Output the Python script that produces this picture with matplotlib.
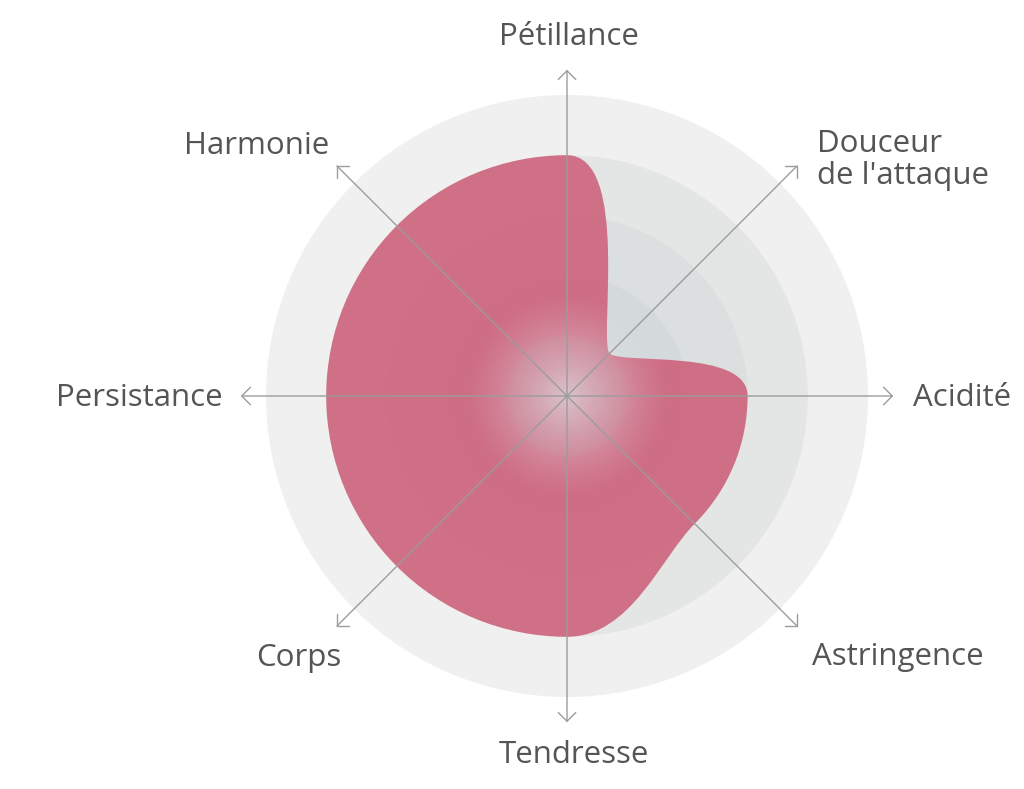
import numpy as np
import matplotlib
matplotlib.use("Agg")
import matplotlib.pyplot as plt
from matplotlib.path import Path
from matplotlib.patches import PathPatch, Circle, FancyArrowPatch

# ---- data ----
categories = ["Pétillance", "Douceur\nde l'attaque", "Acidité", "Astringence",
              "Tendresse", "Corps", "Persistance", "Harmonie"]
values = [4, 1, 3, 3, 4, 4, 4, 4]
levels = [1, 2, 3, 4, 5]

# ---- style ----
ring_colors = ["#cfd5d8", "#d4dadc", "#dcdfe0", "#e4e5e5", "#f0f0f0"]
fill_color = "#cd5a74"
text_color = "#555555"
axis_color = "#9c9c9c"
font = ["Open Sans", "DejaVu Sans"]

W, H = 1024, 789
cx, cy, s = 567, 396, 60.2

fig = plt.figure(figsize=(W / 100, H / 100), dpi=100)
ax = fig.add_axes([0, 0, 1, 1])
ax.axis("off")

# rings
for lv, col in reversed(list(zip(levels, ring_colors))):
    ax.add_patch(Circle((0, 0), lv, facecolor=col, edgecolor="none", zorder=1))

# smooth shape
n = len(values)
theta = np.pi / 2 - np.arange(n) * 2 * np.pi / n
r = np.array(values, dtype=float)
P = np.column_stack([r * np.cos(theta), r * np.sin(theta)])
T = np.column_stack([np.sin(theta), -np.cos(theta)])  # clockwise tangent
k = 4 / 3 * np.tan(2 * np.pi / n / 4)
verts = [P[0]]
codes = [Path.MOVETO]
for i in range(n):
    j = (i + 1) % n
    verts += [P[i] + k * r[i] * T[i], P[j] - k * r[j] * T[j], P[j]]
    codes += [Path.CURVE4] * 3
verts.append(P[0])
codes.append(Path.CLOSEPOLY)
ax.add_patch(PathPatch(Path(verts, codes), facecolor=fill_color, alpha=0.84,
                       edgecolor="none", zorder=2))

# central glow
g = np.linspace(-2, 2, 401)
X, Y = np.meshgrid(g, g)
D = np.hypot(X, Y)
A = np.clip(1 - D / 1.7, 0, 1) ** 1.3 * 0.72
img = np.zeros(D.shape + (4,))
img[..., 0] = 0.90
img[..., 1] = 0.90
img[..., 2] = 0.91
img[..., 3] = A
ax.imshow(img, extent=[-2, 2, -2, 2], origin="lower", zorder=3,
          interpolation="bilinear")
# inner disc edge (subtle)
ax.add_patch(Circle((0, 0), 1, facecolor="#b8b8c0", alpha=0.10,
                    edgecolor="none", zorder=3.5))

ax.set_xlim(-cx / s, (W - cx) / s)
ax.set_ylim(-(H - cy) / s, cy / s)
ax.set_aspect("equal")

# axes with arrows
axis_len = 5.42
for th in theta:
    arr = FancyArrowPatch((0, 0), (axis_len * np.cos(th), axis_len * np.sin(th)),
                          arrowstyle="->,head_length=0.45,head_width=0.45",
                          mutation_scale=14, color=axis_color, lw=1.0,
                          shrinkA=0, shrinkB=0, zorder=4)
    ax.add_patch(arr)

# labels (pixel positions converted to data units)
def px(x, y):
    return (x - cx) / s, (cy - y) / s

label_pos = [
    (569, 37, "center", "center"),
    (817, 160, "left", "center"),
    (913, 398, "left", "center"),
    (812, 657, "left", "center"),
    (574, 755, "center", "center"),
    (341, 658, "right", "center"),
    (223, 398, "right", "center"),
    (329, 146, "right", "center"),
]
for lab, (x, y, ha, va) in zip(categories, label_pos):
    tx, ty = px(x, y)
    ax.text(tx, ty, lab, ha=ha, va=va, fontsize=22.5, color=text_color,
            family=font, linespacing=1.07, zorder=5)

fig.savefig("out.png", dpi=100)
